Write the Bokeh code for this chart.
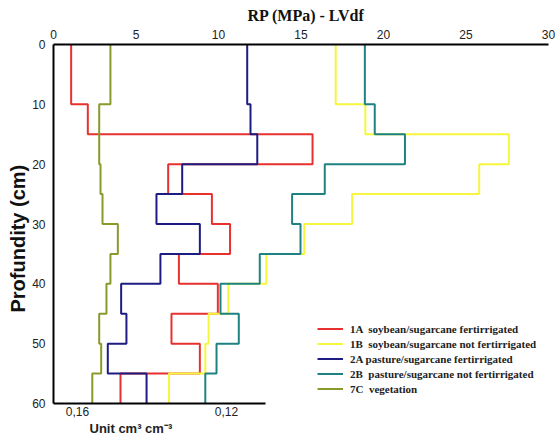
from bokeh.plotting import figure
from bokeh.models import (Range1d, LinearAxis, FixedTicker, Legend, LegendItem, Title)
from bokeh.embed import file_html
from bokeh.resources import INLINE

# depth boundaries (cm)
depths = [0, 10, 15, 20, 25, 30, 35, 40, 45, 50, 55, 60]
# RP (MPa) per depth layer
rp_1A = [1.07, 2.08, 15.7, 6.95, 9.6, 10.7, 7.6, 9.96, 7.15, 8.87, 4.06]
rp_1B = [17.1, 18.9, 27.6, 25.8, 18.1, 15.2, 12.9, 10.6, 9.4, 9.2, 7.0]
rp_2A = [11.74, 11.94, 12.35, 7.8, 6.24, 8.87, 6.48, 4.1, 4.42, 3.29, 5.64]
rp_2B = [18.87, 19.47, 21.3, 16.44, 14.46, 14.97, 12.5, 10.12, 11.23, 9.88, 9.2]
rp_7C = [3.45, 2.77, 2.77, 2.85, 2.97, 3.9, 3.45, 3.21, 2.77, 2.89, 2.35]

series_names = ["1A  soybean/sugarcane fertirrigated",
                "1B  soybean/sugarcane not fertirrigated",
                "2A pasture/sugarcane fertirrigated",
                "2B  pasture/sugarcane not fertirrigated",
                "7C  vegetation"]
series_values = [rp_1A, rp_1B, rp_2A, rp_2B, rp_7C]
series_colors = ["#e8312f", "#f6f63c", "#1c1c82", "#1e8282", "#8a9a2a"]

top_ticks = [0, 5, 10, 15, 20, 25, 30]
depth_ticks = [0, 10, 20, 30, 40, 50, 60]
unit_ticks = [0.16, 0.12]
unit_tick_labels = {0.16: "0,16", 0.12: "0,12"}

p = figure(width=558, height=441, output_backend="svg", toolbar_location=None,
           x_range=Range1d(0, 30), y_range=Range1d(60, 0),
           x_axis_location="above",
           min_border_left=53, min_border_right=10, min_border_top=44,
           min_border_bottom=38)
p.outline_line_color = None
p.grid.visible = False
p.background_fill_color = "white"
p.border_fill_color = "white"

tick_font = "Liberation Sans"

xa = p.xaxis[0]
xa.ticker = FixedTicker(ticks=top_ticks)
xa.major_tick_line_color = None
xa.minor_tick_line_color = None
xa.major_tick_out = 0
xa.major_tick_in = 0
xa.major_label_standoff = 6
xa.axis_line_width = 2
xa.axis_line_color = "black"
xa.major_label_text_font = tick_font
xa.major_label_text_font_size = "12px"
xa.major_label_text_color = "#222222"

ya = p.yaxis[0]
ya.ticker = FixedTicker(ticks=depth_ticks)
ya.major_tick_line_color = None
ya.minor_tick_line_color = None
ya.major_tick_out = 0
ya.major_tick_in = 0
ya.major_label_standoff = 8
ya.axis_line_width = 2
ya.axis_line_color = "black"
ya.major_label_text_font = tick_font
ya.major_label_text_font_size = "12px"
ya.major_label_text_color = "#222222"

# secondary partial bottom axis (volumetric units)
p.extra_x_ranges = {"unit": Range1d(0.16644, 0.03356)}
ua = LinearAxis(x_range_name="unit", ticker=FixedTicker(ticks=unit_ticks),
                bounds=(0.1095, 0.16644))
ua.major_label_overrides = unit_tick_labels
ua.major_tick_line_color = None
ua.minor_tick_line_color = None
ua.major_tick_out = 0
ua.major_tick_in = 0
ua.major_label_standoff = 3
ua.axis_line_width = 2
ua.axis_line_color = "black"
ua.major_label_text_font = tick_font
ua.major_label_text_font_size = "12px"
ua.major_label_text_color = "#222222"
p.add_layout(ua, "below")

items = []
for name, vals, col in zip(series_names, series_values, series_colors):
    xs, ys = [], []
    for i, v in enumerate(vals):
        xs += [v, v]
        ys += [depths[i], depths[i + 1]]
    r = p.line(xs, ys, line_color=col, line_width=2)
    items.append(LegendItem(label=name, renderers=[r]))

legend = Legend(items=items, location=(264, 7), padding=0, margin=0, spacing=0,
                glyph_width=26, glyph_height=15, label_height=15, label_standoff=7,
                border_line_color=None, background_fill_alpha=0,
                label_text_font="Liberation Serif", label_text_font_style="bold",
                label_text_font_size="11px", label_text_color="#222222")
p.add_layout(legend)

p.title.text = "RP (MPa) - LVdf"
p.title.align = "left"
p.title.vertical_align = "top"
p.title.offset = 194
p.title.standoff = 2
p.title.text_font = "Liberation Serif"
p.title.text_font_style = "bold"
p.title.text_font_size = "16px"
p.title.text_color = "#111111"

p.add_layout(Title(text="Profundity (cm)", align="left", offset=91, standoff=2,
                   text_font="Liberation Sans", text_font_style="bold",
                   text_font_size="20px", text_color="#111111"), "left")
p.add_layout(Title(text="Unit cm³ cm⁻³", align="left", offset=36, standoff=0,
                   text_font="Liberation Sans", text_font_style="bold",
                   text_font_size="13px", text_color="#222222"), "below")

open("out.html", "w").write(file_html(p, INLINE))
